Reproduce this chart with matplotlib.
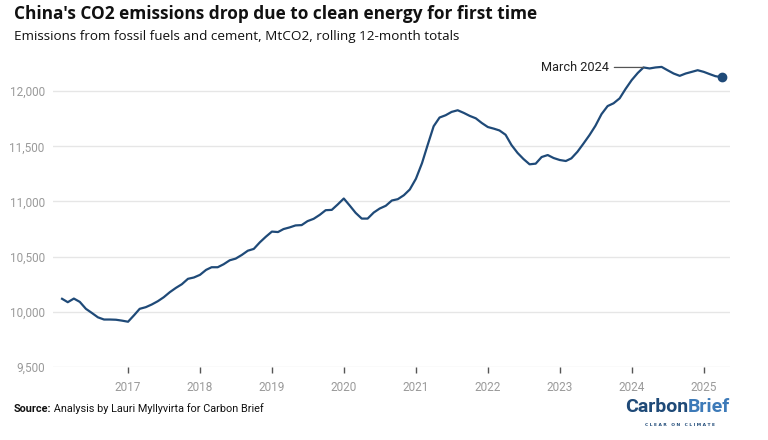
import pandas as pd
import numpy as np
import matplotlib.pyplot as plt
import matplotlib.ticker as mticker

# rolling 12-month totals, MtCO2, monthly Feb 2016 - Apr 2025
emissions = [
    10118, 10087, 10120, 10090, 10027, 9990, 9950, 9930, 9930, 9928, 9920,           # 2016
    9910, 9970, 10027, 10042, 10066, 10096, 10132, 10178, 10217, 10250, 10299, 10311,  # 2017
    10335, 10380, 10404, 10404, 10431, 10467, 10482, 10515, 10554, 10570, 10630, 10680,  # 2018
    10727, 10723, 10750, 10765, 10783, 10786, 10822, 10843, 10879, 10921, 10924, 10973,  # 2019
    11027, 10961, 10897, 10845, 10845, 10900, 10936, 10961, 11009, 11021, 11057, 11109,  # 2020
    11206, 11348, 11509, 11682, 11761, 11782, 11812, 11827, 11803, 11776, 11754, 11712,  # 2021
    11675, 11660, 11644, 11605, 11512, 11440, 11385, 11337, 11343, 11403, 11421, 11394,  # 2022
    11376, 11367, 11391, 11451, 11524, 11602, 11686, 11792, 11865, 11890, 11935, 12020,  # 2023
    12100, 12165, 12215, 12206, 12215, 12220, 12190, 12160, 12139, 12160, 12175, 12190,  # 2024
    12175, 12154, 12136, 12127,                                                        # 2025
]
dates = pd.date_range('2016-02-01', periods=len(emissions), freq='MS')
years = list(range(2017, 2026))
yticks = [9500, 10000, 10500, 11000, 11500, 12000]
peak_label = 'March 2024'
peak_date = pd.Timestamp('2024-03-01')

navy = '#1f4a78'
grey_txt = '#9a9a9a'

fig = plt.figure(figsize=(7.68, 4.40), dpi=100)
ax = fig.add_axes([0.069, 0.166, 0.882, 0.702])

ax.plot(dates, emissions, color=navy, lw=1.6, solid_joinstyle='round', zorder=3)
ax.plot(dates[-1], emissions[-1], 'o', color=navy, ms=6, zorder=4)

# annotation for the peak
peak_val = emissions[list(dates).index(peak_date)]
ax.annotate(peak_label, xy=(peak_date, peak_val), xytext=(-25, 0), textcoords='offset points',
            ha='right', va='center', fontsize=9.2, color='#222222', family='Roboto',
            arrowprops=dict(arrowstyle='-', color='#555555', lw=0.9, shrinkA=2, shrinkB=0))

ax.set_xlim(pd.Timestamp('2015-12-17'), pd.Timestamp('2025-05-16'))
ax.set_ylim(9500, 12300)
ax.set_yticks(yticks)
ax.yaxis.set_major_formatter(mticker.FuncFormatter(lambda v, p: f'{int(v):,}'))
ax.set_xticks([pd.Timestamp(f'{y}-01-01') for y in years])
ax.set_xticklabels([str(y) for y in years])

ax.grid(axis='y', color='#e6e6e6', lw=1)
ax.set_axisbelow(True)
for s in ax.spines.values():
    s.set_visible(False)
ax.tick_params(axis='y', length=0, pad=6, labelsize=8.5, labelcolor=grey_txt)
ax.tick_params(axis='x', length=4, width=1, color='#555555', pad=6,
               labelsize=8.5, labelcolor=grey_txt)
for lab in ax.get_xticklabels() + ax.get_yticklabels():
    lab.set_family('Roboto')

fig.text(0.018, 0.968, "China's CO2 emissions drop due to clean energy for first time",
         fontsize=12.4, fontweight='bold', family='Open Sans', va='center', color='#111111')
fig.text(0.018, 0.916, 'Emissions from fossil fuels and cement, MtCO2, rolling 12-month totals',
         fontsize=9.7, family='Open Sans', va='center', color='#111111')

# source line
src = fig.text(0.018, 0.071, 'Source:', fontsize=7.8, fontweight='bold',
               family='Roboto', va='center', color='#111111')
ax.annotate(' Analysis by Lauri Myllyvirta for Carbon Brief', xy=(1, 0.5), xycoords=src,
            ha='left', va='center', fontsize=7.8, family='Roboto', color='#111111',
            annotation_clip=False)

# logo
brief = fig.text(0.951, 0.075, 'Brief', fontsize=14, fontweight='bold',
                 family='Roboto', ha='right', va='center', color='#3d7ab8')
ax.annotate('Carbon', xy=(0, 0.5), xycoords=brief, ha='right', va='center',
            fontsize=14, fontweight='bold', family='Roboto', color='#1f4a78',
            annotation_clip=False)
fig.text(0.886, 0.035, 'C L E A R   O N   C L I M A T E', fontsize=3.2, fontweight='bold',
         family='DejaVu Sans', ha='center', va='center', color='#1f4a78')

fig.savefig('out.png', dpi=100)
